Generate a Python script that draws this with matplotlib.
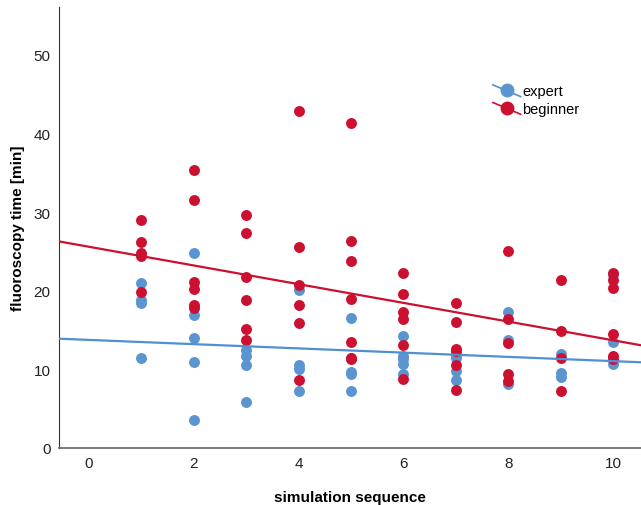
import numpy as np
import matplotlib

matplotlib.use('Agg')
import matplotlib.pyplot as plt
from matplotlib.lines import Line2D
from matplotlib.legend_handler import HandlerBase

plt.rcParams['font.family'] = ['Liberation Sans', 'DejaVu Sans']

# values (session, fluoroscopy time in min)
expert_x = [1, 1, 1, 1,
            2, 2, 2, 2, 2,
            3, 3, 3, 3,
            4, 4, 4, 4,
            5, 5, 5, 5, 5,
            6, 6, 6, 6, 6,
            7, 7, 7, 7,
            8, 8, 8,
            9, 9, 9,
            10, 10, 10]
expert_y = [21.0, 18.8, 18.5, 11.4,
            24.8, 16.9, 14.0, 10.9, 3.6,
            12.5, 11.7, 10.5, 5.8,
            20.1, 10.5, 10.1, 7.2,
            16.6, 11.5, 9.7, 9.4, 7.2,
            14.2, 11.7, 11.3, 10.7, 9.4,
            11.8, 11.5, 9.8, 8.6,
            17.3, 13.8, 8.1,
            12.0, 9.5, 9.0,
            22.0, 13.5, 10.7]

beginner_x = [1, 1, 1, 1, 1,
              2, 2, 2, 2, 2, 2,
              3, 3, 3, 3, 3, 3,
              4, 4, 4, 4, 4, 4,
              5, 5, 5, 5, 5, 5, 5,
              6, 6, 6, 6, 6, 6,
              7, 7, 7, 7, 7, 7,
              8, 8, 8, 8, 8,
              9, 9, 9, 9,
              10, 10, 10, 10, 10, 10]
beginner_y = [29.0, 26.2, 24.8, 24.4, 19.9,
              35.4, 31.5, 21.1, 20.2, 18.2, 17.8,
              29.7, 27.3, 21.7, 18.8, 15.1, 13.7,
              42.9, 25.6, 20.7, 18.2, 15.9, 8.7,
              41.3, 26.3, 23.8, 18.9, 13.5, 11.5, 11.3,
              22.3, 19.6, 17.3, 16.4, 13.1, 8.8,
              18.4, 16.0, 12.6, 12.3, 10.5, 7.4,
              25.0, 16.4, 13.3, 9.4, 8.5,
              21.4, 14.9, 11.5, 7.2,
              22.3, 21.4, 20.4, 14.5, 11.7, 11.3]

# fit lines as shown in the reference (intercept at x=0, slope per session)
expert_fit = (13.75, -0.27)
beginner_fit = (25.6, -1.19)

x_ticks = [0, 2, 4, 6, 8, 10]
y_ticks = [0, 10, 20, 30, 40, 50]

BLUE = '#5b95d0'
BLUE_LINE = '#4f8fd3'
RED = '#cc1030'


class DiagonalHandler(HandlerBase):
    """Legend handle: dot in the middle, fit line slanting through it."""

    def create_artists(self, legend, orig_handle, xdescent, ydescent,
                       width, height, fontsize, trans):
        x0, x1 = -xdescent, width - xdescent
        line = Line2D([x0, x1], [height * 1.0 - ydescent, -height * 0.15 - ydescent],
                      color=orig_handle.get_color(), lw=orig_handle.get_linewidth(),
                      transform=trans)
        dot = Line2D([(x0 + x1) / 2], [height * 0.45 - ydescent], linestyle='none',
                     marker='o', markersize=orig_handle.get_markersize(),
                     markerfacecolor=orig_handle.get_markerfacecolor(),
                     markeredgewidth=0, transform=trans)
        return [line, dot]


fig = plt.figure(figsize=(6.41, 5.06), dpi=100)
ax = fig.add_axes([59 / 641, 1 - 449 / 506, 582 / 641, 441 / 506])

ax.scatter(expert_x, expert_y, s=62, color=BLUE, linewidths=0, zorder=3)
ax.scatter(beginner_x, beginner_y, s=62, color=RED, linewidths=0, zorder=4)

xlim = (-0.57, 10.53)
xs = np.array(xlim)
for (icept, slope), col in ((expert_fit, BLUE_LINE), (beginner_fit, RED)):
    ax.plot(xs, icept + slope * xs, color=col, lw=1.6, zorder=5)

ax.set_xlim(*xlim)
ax.set_ylim(0, 56.1)
ax.set_xticks(x_ticks)
ax.set_yticks(y_ticks)
ax.tick_params(length=0, labelsize=11, colors='#222222', pad=6)
for side in ('top', 'right'):
    ax.spines[side].set_visible(False)
ax.spines['left'].set_color('#333333')
ax.spines['bottom'].set_color('#666666')
ax.spines['bottom'].set_linewidth(1.2)

ax.set_xlabel('simulation sequence', fontsize=11, fontweight='bold', labelpad=14)
ax.set_ylabel('fluoroscopy time [min]', fontsize=11, fontweight='bold', labelpad=6)

handles = [
    Line2D([0], [0], color=BLUE_LINE, marker='o', markersize=10,
           markerfacecolor=BLUE, lw=1.2),
    Line2D([0], [0], color=RED, marker='o', markersize=10,
           markerfacecolor=RED, lw=1.2),
]
ax.legend(handles, ['expert', 'beginner'], loc='upper left',
          bbox_to_anchor=(0.723, 0.855), frameon=False, fontsize=10.5,
          handlelength=1.9, handletextpad=0.1, labelspacing=0.25,
          handler_map={Line2D: DiagonalHandler()})

fig.savefig('out.png', dpi=100)
